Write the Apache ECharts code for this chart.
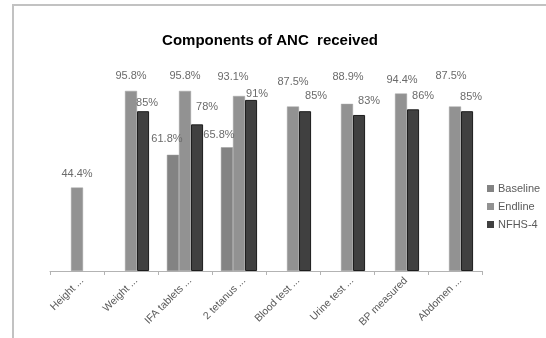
<!DOCTYPE html>
<html>
<head>
<meta charset="utf-8">
<script src="https://cdn.jsdelivr.net/npm/echarts@6/dist/echarts.min.js"></script>
<style>
  html, body { margin: 0; padding: 0; background: #fff; }
  #chart { width: 546px; height: 338px; }
</style>
</head>
<body>
<div id="chart"></div>
<script>
// Components of ANC received, by survey round (percent of women)
const categories = ['Height ...', 'Weight ...', 'IFA tablets ...', '2 tetanus ...',
  'Blood test ...', 'Urine test ...', 'BP measured', 'Abdomen ...'];
const baseline = [null, null, 61.8, 65.8, null, null, null, null];
const endline  = [44.4, 95.8, 95.8, 93.1, 87.5, 88.9, 94.4, 87.5];
const nfhs4    = [null, 85, 78, 91, 85, 83, 86, 85];

// Where each value label sits relative to the top centre of its bar
const baselineLabelShift = [null, null, [-6, -16], [-8, -12], null, null, null, null];
const endlineLabelShift  = [[0, -14], [0, -15], [0, -15], [-6, -19], [0, -25], [1, -27], [1, -14], [-4, -31]];
const nfhsLabelShift     = [null, [4, -8], [10, -17], [6, -6], [11, -15], [10, -14], [10, -13], [4, -14]];

const labelFont = { fontFamily: 'Liberation Sans', fontSize: 11, color: '#6b6b6b' };

function barData(values, shifts) {
  return values.map((v, i) => {
    if (v === null) return '-';
    const s = shifts[i] || [0, -12];
    return {
      value: v,
      label: {
        show: true,
        position: 'top',
        distance: 0,
        verticalAlign: 'middle',
        offset: [s[0], s[1]],
        formatter: (p) => p.value + '%',
        ...labelFont
      }
    };
  });
}

const chart = echarts.init(document.getElementById('chart'), null, { renderer: 'canvas' });
chart.setOption({
  animation: false,
  backgroundColor: '#ffffff',
  title: {
    text: 'Components of ANC  received',
    left: 265,
    textAlign: 'center',
    top: 28,
    textStyle: { fontFamily: 'Liberation Sans', fontWeight: 'bold', fontSize: 15, color: '#000' }
  },
  graphic: [{
    type: 'rect',
    shape: { x: 13, y: 5, width: 600, height: 400 },
    style: { fill: 'none', stroke: '#c2c2c2', lineWidth: 2 },
    silent: true
  }],
  legend: {
    orient: 'vertical',
    left: 482,
    top: 178,
    itemWidth: 7,
    itemHeight: 7,
    itemGap: 7,
    itemStyle: { borderWidth: 0 },
    icon: 'rect',
    textStyle: { fontFamily: 'Liberation Sans', fontSize: 11, color: '#5a5a5a', padding: [0, 0, 0, -1] },
    data: ['Baseline', 'Endline', 'NFHS-4']
  },
  grid: { left: 50, right: 64, top: 83, bottom: 67, containLabel: false },
  xAxis: {
    type: 'category',
    data: categories,
    axisLine: { lineStyle: { color: '#b3b3b3', width: 1 } },
    axisTick: { show: true, length: 4, lineStyle: { color: '#b3b3b3' } },
    axisLabel: {
      rotate: 45,
      margin: 13,
      interval: 0,
      padding: [0, -7, 0, 0],
      fontFamily: 'Liberation Sans',
      fontSize: 10.5,
      color: '#5a5a5a'
    }
  },
  yAxis: {
    type: 'value',
    min: 0,
    max: 100,
    show: false,
    splitLine: { show: false }
  },
  series: [
    {
      name: 'Baseline',
      type: 'bar',
      barGap: '0%',
      barCategoryGap: '33%',
      itemStyle: { color: '#838383', borderColor: '#9a9a9a', borderWidth: 0.5 },
      data: barData(baseline, baselineLabelShift)
    },
    {
      name: 'Endline',
      type: 'bar',
      barGap: '0%',
      barCategoryGap: '33%',
      itemStyle: { color: '#929292', borderColor: '#a5a5a5', borderWidth: 0.5 },
      data: barData(endline, endlineLabelShift)
    },
    {
      name: 'NFHS-4',
      type: 'bar',
      barGap: '0%',
      barCategoryGap: '33%',
      itemStyle: { color: '#404040', borderColor: '#1c1c1c', borderWidth: 1 },
      data: barData(nfhs4, nfhsLabelShift)
    }
  ]
});
</script>
</body>
</html>
